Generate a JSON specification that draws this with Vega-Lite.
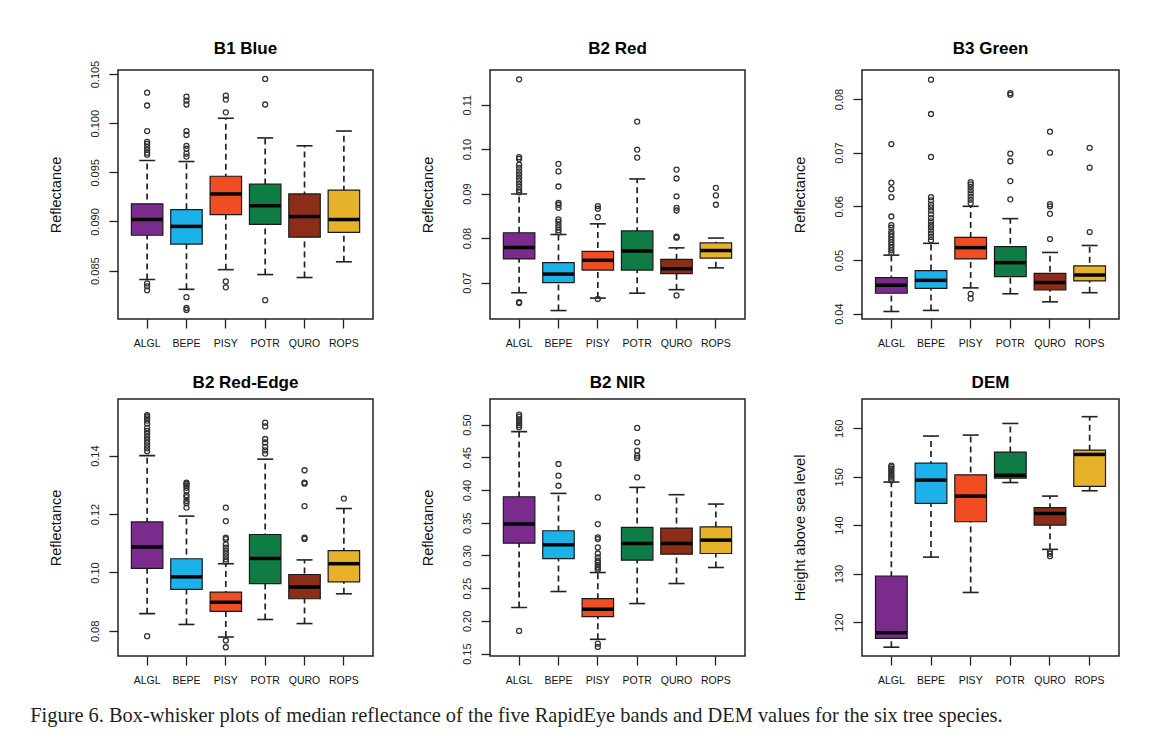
{
"$schema": "https://vega.github.io/schema/vega-lite/v6.json",
"background": "white",
"padding": {"left": 30, "top": 39, "right": 10, "bottom": 10},
"bounds": "flush",
"title": {"text": "Figure 6. Box-whisker plots of median reflectance of the five RapidEye bands and DEM values for the six tree species.", "orient": "bottom", "anchor": "start", "frame": "bounds", "font": "Liberation Serif", "fontSize": 20.4, "fontWeight": "normal", "color": "#231f20", "offset": 20, "dx": -17},
"datasets": {
"stats": [
{"band":"B1","sp":"ALGL","lo":0.0841,"q1":0.0886,"med":0.0902,"q3":0.0918,"hi":0.0962},
{"band":"B1","sp":"BEPE","lo":0.0831,"q1":0.0877,"med":0.0895,"q3":0.0912,"hi":0.0961},
{"band":"B1","sp":"PISY","lo":0.0851,"q1":0.0907,"med":0.0928,"q3":0.0946,"hi":0.1005},
{"band":"B1","sp":"POTR","lo":0.0846,"q1":0.0897,"med":0.0916,"q3":0.0938,"hi":0.0985},
{"band":"B1","sp":"QURO","lo":0.0843,"q1":0.0884,"med":0.0905,"q3":0.0928,"hi":0.0977},
{"band":"B1","sp":"ROPS","lo":0.0859,"q1":0.0889,"med":0.0902,"q3":0.0932,"hi":0.0992},
{"band":"B2R","sp":"ALGL","lo":0.0677,"q1":0.0753,"med":0.0779,"q3":0.0812,"hi":0.0899},
{"band":"B2R","sp":"BEPE","lo":0.0637,"q1":0.0700,"med":0.0719,"q3":0.0745,"hi":0.0808},
{"band":"B2R","sp":"PISY","lo":0.0665,"q1":0.0728,"med":0.0750,"q3":0.0770,"hi":0.0832},
{"band":"B2R","sp":"POTR","lo":0.0676,"q1":0.0728,"med":0.0771,"q3":0.0816,"hi":0.0933},
{"band":"B2R","sp":"QURO","lo":0.0684,"q1":0.0720,"med":0.0731,"q3":0.0752,"hi":0.0778},
{"band":"B2R","sp":"ROPS","lo":0.0733,"q1":0.0755,"med":0.0772,"q3":0.0789,"hi":0.0800},
{"band":"B3","sp":"ALGL","lo":0.0404,"q1":0.0438,"med":0.0453,"q3":0.0467,"hi":0.0509},
{"band":"B3","sp":"BEPE","lo":0.0406,"q1":0.0447,"med":0.0462,"q3":0.0480,"hi":0.0531},
{"band":"B3","sp":"PISY","lo":0.0448,"q1":0.0502,"med":0.0523,"q3":0.0542,"hi":0.0600},
{"band":"B3","sp":"POTR","lo":0.0437,"q1":0.0469,"med":0.0495,"q3":0.0525,"hi":0.0577},
{"band":"B3","sp":"QURO","lo":0.0422,"q1":0.0444,"med":0.0458,"q3":0.0475,"hi":0.0514},
{"band":"B3","sp":"ROPS","lo":0.0439,"q1":0.0461,"med":0.0472,"q3":0.0489,"hi":0.0527},
{"band":"RE","sp":"ALGL","lo":0.0859,"q1":0.1014,"med":0.1087,"q3":0.1173,"hi":0.1400},
{"band":"RE","sp":"BEPE","lo":0.0822,"q1":0.0942,"med":0.0985,"q3":0.1047,"hi":0.1193},
{"band":"RE","sp":"PISY","lo":0.0779,"q1":0.0867,"med":0.0898,"q3":0.0933,"hi":0.1030},
{"band":"RE","sp":"POTR","lo":0.0839,"q1":0.0962,"med":0.1048,"q3":0.1130,"hi":0.1388},
{"band":"RE","sp":"QURO","lo":0.0825,"q1":0.0910,"med":0.0950,"q3":0.0993,"hi":0.1043},
{"band":"RE","sp":"ROPS","lo":0.0927,"q1":0.0968,"med":0.1030,"q3":0.1075,"hi":0.1219},
{"band":"NIR","sp":"ALGL","lo":0.2204,"q1":0.3188,"med":0.3479,"q3":0.3897,"hi":0.4892},
{"band":"NIR","sp":"BEPE","lo":0.2449,"q1":0.2953,"med":0.3163,"q3":0.3377,"hi":0.3948},
{"band":"NIR","sp":"PISY","lo":0.1719,"q1":0.2066,"med":0.2178,"q3":0.2342,"hi":0.2739},
{"band":"NIR","sp":"POTR","lo":0.2265,"q1":0.2928,"med":0.3183,"q3":0.3428,"hi":0.4040},
{"band":"NIR","sp":"QURO","lo":0.2571,"q1":0.3020,"med":0.3183,"q3":0.3418,"hi":0.3928},
{"band":"NIR","sp":"ROPS","lo":0.2816,"q1":0.3030,"med":0.3234,"q3":0.3438,"hi":0.3785},
{"band":"DEM","sp":"ALGL","lo":114.8,"q1":116.6,"med":117.8,"q3":129.5,"hi":148.9},
{"band":"DEM","sp":"BEPE","lo":133.4,"q1":144.5,"med":149.3,"q3":152.8,"hi":158.4},
{"band":"DEM","sp":"PISY","lo":126.1,"q1":140.7,"med":146.0,"q3":150.4,"hi":158.6},
{"band":"DEM","sp":"POTR","lo":148.8,"q1":149.7,"med":150.3,"q3":155.1,"hi":161.0},
{"band":"DEM","sp":"QURO","lo":135.0,"q1":140.0,"med":142.4,"q3":143.6,"hi":146.0},
{"band":"DEM","sp":"ROPS","lo":147.1,"q1":148.0,"med":154.6,"q3":155.5,"hi":162.4}
],
"out": [
{"band":"B1","sp":"ALGL","v":0.1031},{"band":"B1","sp":"ALGL","v":0.1018},{"band":"B1","sp":"ALGL","v":0.0992},{"band":"B1","sp":"ALGL","v":0.0981},{"band":"B1","sp":"ALGL","v":0.0979},{"band":"B1","sp":"ALGL","v":0.0976},{"band":"B1","sp":"ALGL","v":0.0973},{"band":"B1","sp":"ALGL","v":0.0970},{"band":"B1","sp":"ALGL","v":0.0968},{"band":"B1","sp":"ALGL","v":0.0837},{"band":"B1","sp":"ALGL","v":0.0834},{"band":"B1","sp":"ALGL","v":0.0830},
{"band":"B1","sp":"BEPE","v":0.1027},{"band":"B1","sp":"BEPE","v":0.1023},{"band":"B1","sp":"BEPE","v":0.1019},{"band":"B1","sp":"BEPE","v":0.0992},{"band":"B1","sp":"BEPE","v":0.0988},{"band":"B1","sp":"BEPE","v":0.0977},{"band":"B1","sp":"BEPE","v":0.0974},{"band":"B1","sp":"BEPE","v":0.0969},{"band":"B1","sp":"BEPE","v":0.0966},{"band":"B1","sp":"BEPE","v":0.0823},{"band":"B1","sp":"BEPE","v":0.0812},{"band":"B1","sp":"BEPE","v":0.0810},
{"band":"B1","sp":"PISY","v":0.1028},{"band":"B1","sp":"PISY","v":0.1024},{"band":"B1","sp":"PISY","v":0.1011},{"band":"B1","sp":"PISY","v":0.0839},{"band":"B1","sp":"PISY","v":0.0833},
{"band":"B1","sp":"POTR","v":0.1045},{"band":"B1","sp":"POTR","v":0.1019},{"band":"B1","sp":"POTR","v":0.0820},
{"band":"B2R","sp":"ALGL","v":0.1157},{"band":"B2R","sp":"ALGL","v":0.0982},{"band":"B2R","sp":"ALGL","v":0.0978},{"band":"B2R","sp":"ALGL","v":0.0965},{"band":"B2R","sp":"ALGL","v":0.0958},{"band":"B2R","sp":"ALGL","v":0.0950},{"band":"B2R","sp":"ALGL","v":0.0943},{"band":"B2R","sp":"ALGL","v":0.0936},{"band":"B2R","sp":"ALGL","v":0.0929},{"band":"B2R","sp":"ALGL","v":0.0922},{"band":"B2R","sp":"ALGL","v":0.0915},{"band":"B2R","sp":"ALGL","v":0.0908},{"band":"B2R","sp":"ALGL","v":0.0903},{"band":"B2R","sp":"ALGL","v":0.0656},{"band":"B2R","sp":"ALGL","v":0.0654},
{"band":"B2R","sp":"BEPE","v":0.0967},{"band":"B2R","sp":"BEPE","v":0.0950},{"band":"B2R","sp":"BEPE","v":0.0916},{"band":"B2R","sp":"BEPE","v":0.0879},{"band":"B2R","sp":"BEPE","v":0.0875},{"band":"B2R","sp":"BEPE","v":0.0868},{"band":"B2R","sp":"BEPE","v":0.0842},{"band":"B2R","sp":"BEPE","v":0.0837},{"band":"B2R","sp":"BEPE","v":0.0830},{"band":"B2R","sp":"BEPE","v":0.0824},{"band":"B2R","sp":"BEPE","v":0.0818},{"band":"B2R","sp":"BEPE","v":0.0813},
{"band":"B2R","sp":"PISY","v":0.0872},{"band":"B2R","sp":"PISY","v":0.0866},{"band":"B2R","sp":"PISY","v":0.0847},{"band":"B2R","sp":"PISY","v":0.0663},
{"band":"B2R","sp":"POTR","v":0.1062},{"band":"B2R","sp":"POTR","v":0.0999},{"band":"B2R","sp":"POTR","v":0.0981},
{"band":"B2R","sp":"QURO","v":0.0954},{"band":"B2R","sp":"QURO","v":0.0934},{"band":"B2R","sp":"QURO","v":0.0894},{"band":"B2R","sp":"QURO","v":0.0868},{"band":"B2R","sp":"QURO","v":0.0862},{"band":"B2R","sp":"QURO","v":0.0803},{"band":"B2R","sp":"QURO","v":0.0801},{"band":"B2R","sp":"QURO","v":0.0671},
{"band":"B2R","sp":"ROPS","v":0.0913},{"band":"B2R","sp":"ROPS","v":0.0896},{"band":"B2R","sp":"ROPS","v":0.0875},
{"band":"B3","sp":"ALGL","v":0.0716},{"band":"B3","sp":"ALGL","v":0.0644},{"band":"B3","sp":"ALGL","v":0.0632},{"band":"B3","sp":"ALGL","v":0.0617},{"band":"B3","sp":"ALGL","v":0.0581},{"band":"B3","sp":"ALGL","v":0.0565},{"band":"B3","sp":"ALGL","v":0.0560},{"band":"B3","sp":"ALGL","v":0.0553},{"band":"B3","sp":"ALGL","v":0.0548},{"band":"B3","sp":"ALGL","v":0.0543},{"band":"B3","sp":"ALGL","v":0.0538},{"band":"B3","sp":"ALGL","v":0.0533},{"band":"B3","sp":"ALGL","v":0.0528},{"band":"B3","sp":"ALGL","v":0.0523},{"band":"B3","sp":"ALGL","v":0.0518},{"band":"B3","sp":"ALGL","v":0.0513},
{"band":"B3","sp":"BEPE","v":0.0836},{"band":"B3","sp":"BEPE","v":0.0772},{"band":"B3","sp":"BEPE","v":0.0692},{"band":"B3","sp":"BEPE","v":0.0617},{"band":"B3","sp":"BEPE","v":0.0611},{"band":"B3","sp":"BEPE","v":0.0603},{"band":"B3","sp":"BEPE","v":0.0598},{"band":"B3","sp":"BEPE","v":0.0592},{"band":"B3","sp":"BEPE","v":0.0585},{"band":"B3","sp":"BEPE","v":0.0578},{"band":"B3","sp":"BEPE","v":0.0572},{"band":"B3","sp":"BEPE","v":0.0566},{"band":"B3","sp":"BEPE","v":0.0561},{"band":"B3","sp":"BEPE","v":0.0555},{"band":"B3","sp":"BEPE","v":0.0549},{"band":"B3","sp":"BEPE","v":0.0543},{"band":"B3","sp":"BEPE","v":0.0537},
{"band":"B3","sp":"PISY","v":0.0645},{"band":"B3","sp":"PISY","v":0.0641},{"band":"B3","sp":"PISY","v":0.0636},{"band":"B3","sp":"PISY","v":0.0630},{"band":"B3","sp":"PISY","v":0.0624},{"band":"B3","sp":"PISY","v":0.0618},{"band":"B3","sp":"PISY","v":0.0612},{"band":"B3","sp":"PISY","v":0.0606},{"band":"B3","sp":"PISY","v":0.0437},{"band":"B3","sp":"PISY","v":0.0428},
{"band":"B3","sp":"POTR","v":0.0811},{"band":"B3","sp":"POTR","v":0.0808},{"band":"B3","sp":"POTR","v":0.0698},{"band":"B3","sp":"POTR","v":0.0684},{"band":"B3","sp":"POTR","v":0.0647},{"band":"B3","sp":"POTR","v":0.0613},
{"band":"B3","sp":"QURO","v":0.0739},{"band":"B3","sp":"QURO","v":0.0700},{"band":"B3","sp":"QURO","v":0.0604},{"band":"B3","sp":"QURO","v":0.0600},{"band":"B3","sp":"QURO","v":0.0586},{"band":"B3","sp":"QURO","v":0.0539},
{"band":"B3","sp":"ROPS","v":0.0709},{"band":"B3","sp":"ROPS","v":0.0672},{"band":"B3","sp":"ROPS","v":0.0552},
{"band":"RE","sp":"ALGL","v":0.1539},{"band":"RE","sp":"ALGL","v":0.1534},{"band":"RE","sp":"ALGL","v":0.1528},{"band":"RE","sp":"ALGL","v":0.1520},{"band":"RE","sp":"ALGL","v":0.1510},{"band":"RE","sp":"ALGL","v":0.1495},{"band":"RE","sp":"ALGL","v":0.1485},{"band":"RE","sp":"ALGL","v":0.1475},{"band":"RE","sp":"ALGL","v":0.1465},{"band":"RE","sp":"ALGL","v":0.1455},{"band":"RE","sp":"ALGL","v":0.1445},{"band":"RE","sp":"ALGL","v":0.1435},{"band":"RE","sp":"ALGL","v":0.1425},{"band":"RE","sp":"ALGL","v":0.1415},{"band":"RE","sp":"ALGL","v":0.0782},
{"band":"RE","sp":"BEPE","v":0.1308},{"band":"RE","sp":"BEPE","v":0.1303},{"band":"RE","sp":"BEPE","v":0.1297},{"band":"RE","sp":"BEPE","v":0.1290},{"band":"RE","sp":"BEPE","v":0.1280},{"band":"RE","sp":"BEPE","v":0.1265},{"band":"RE","sp":"BEPE","v":0.1258},{"band":"RE","sp":"BEPE","v":0.1245},{"band":"RE","sp":"BEPE","v":0.1237},{"band":"RE","sp":"BEPE","v":0.1222},
{"band":"RE","sp":"PISY","v":0.1222},{"band":"RE","sp":"PISY","v":0.1176},{"band":"RE","sp":"PISY","v":0.1119},{"band":"RE","sp":"PISY","v":0.1114},{"band":"RE","sp":"PISY","v":0.1096},{"band":"RE","sp":"PISY","v":0.1085},{"band":"RE","sp":"PISY","v":0.1075},{"band":"RE","sp":"PISY","v":0.1065},{"band":"RE","sp":"PISY","v":0.1055},{"band":"RE","sp":"PISY","v":0.1045},{"band":"RE","sp":"PISY","v":0.1037},{"band":"RE","sp":"PISY","v":0.0767},{"band":"RE","sp":"PISY","v":0.0744},
{"band":"RE","sp":"POTR","v":0.1513},{"band":"RE","sp":"POTR","v":0.1500},{"band":"RE","sp":"POTR","v":0.1457},{"band":"RE","sp":"POTR","v":0.1445},{"band":"RE","sp":"POTR","v":0.1430},{"band":"RE","sp":"POTR","v":0.1418},{"band":"RE","sp":"POTR","v":0.1407},
{"band":"RE","sp":"QURO","v":0.1350},{"band":"RE","sp":"QURO","v":0.1308},{"band":"RE","sp":"QURO","v":0.1304},{"band":"RE","sp":"QURO","v":0.1227},{"band":"RE","sp":"QURO","v":0.1119},{"band":"RE","sp":"QURO","v":0.1115},
{"band":"RE","sp":"ROPS","v":0.1253},
{"band":"NIR","sp":"ALGL","v":0.5152},{"band":"NIR","sp":"ALGL","v":0.5120},{"band":"NIR","sp":"ALGL","v":0.5080},{"band":"NIR","sp":"ALGL","v":0.5050},{"band":"NIR","sp":"ALGL","v":0.5020},{"band":"NIR","sp":"ALGL","v":0.4990},{"band":"NIR","sp":"ALGL","v":0.4960},{"band":"NIR","sp":"ALGL","v":0.1847},
{"band":"NIR","sp":"BEPE","v":0.4397},{"band":"NIR","sp":"BEPE","v":0.4218},{"band":"NIR","sp":"BEPE","v":0.4065},
{"band":"NIR","sp":"PISY","v":0.3887},{"band":"NIR","sp":"PISY","v":0.3479},{"band":"NIR","sp":"PISY","v":0.3275},{"band":"NIR","sp":"PISY","v":0.3250},{"band":"NIR","sp":"PISY","v":0.3122},{"band":"NIR","sp":"PISY","v":0.3030},{"band":"NIR","sp":"PISY","v":0.2969},{"band":"NIR","sp":"PISY","v":0.2920},{"band":"NIR","sp":"PISY","v":0.2890},{"band":"NIR","sp":"PISY","v":0.2857},{"band":"NIR","sp":"PISY","v":0.2826},{"band":"NIR","sp":"PISY","v":0.2800},{"band":"NIR","sp":"PISY","v":0.2780},{"band":"NIR","sp":"PISY","v":0.1653},{"band":"NIR","sp":"PISY","v":0.1602},
{"band":"NIR","sp":"POTR","v":0.4948},{"band":"NIR","sp":"POTR","v":0.4728},{"band":"NIR","sp":"POTR","v":0.4601},{"band":"NIR","sp":"POTR","v":0.4524},{"band":"NIR","sp":"POTR","v":0.4489},{"band":"NIR","sp":"POTR","v":0.4193},
{"band":"DEM","sp":"ALGL","v":152.3},{"band":"DEM","sp":"ALGL","v":152.0},{"band":"DEM","sp":"ALGL","v":151.6},{"band":"DEM","sp":"ALGL","v":151.2},{"band":"DEM","sp":"ALGL","v":150.8},{"band":"DEM","sp":"ALGL","v":150.4},{"band":"DEM","sp":"ALGL","v":150.0},{"band":"DEM","sp":"ALGL","v":149.6},{"band":"DEM","sp":"ALGL","v":149.2},
{"band":"DEM","sp":"QURO","v":134.5},{"band":"DEM","sp":"QURO","v":134.1},{"band":"DEM","sp":"QURO","v":133.6}
]
},
"columns": 3,
"spacing": {"row": 80, "column": 117},
"concat": [
{"title": {"text": "B1 Blue", "offset": 2}, "width": 255, "height": 249,
 "encoding": {"x": {"field": "sp", "type": "nominal", "title": null, "scale": {"domain": ["ALGL","BEPE","PISY","POTR","QURO","ROPS"], "paddingInner": 0.2, "paddingOuter": 0.34}}},
 "layer": [
  {"data": {"name": "stats"}, "transform": [{"filter": "datum.band === 'B1'"}], "mark": {"type": "rule", "strokeDash": [6, 4], "strokeWidth": 1.7, "color": "#222"}, "encoding": {"y": {"field": "lo", "type": "quantitative", "title": "Reflectance", "scale": {"domain": [0.08008, 0.10541], "zero": false, "nice": false}}, "y2": {"field": "hi"}}},
  {"data": {"name": "stats"}, "transform": [{"filter": "datum.band === 'B1'"}, {"fold": ["lo", "hi"], "as": ["k", "val"]}], "mark": {"type": "tick", "size": 16, "thickness": 1.6, "color": "#222", "opacity": 1}, "encoding": {"y": {"field": "val", "type": "quantitative", "title": "Reflectance", "scale": {"domain": [0.08008, 0.10541], "zero": false, "nice": false}}}},
  {"data": {"name": "stats"}, "transform": [{"filter": "datum.band === 'B1'"}], "mark": {"type": "bar", "stroke": "#1a1a1a", "strokeWidth": 1.2}, "encoding": {"y": {"field": "q1", "type": "quantitative", "title": "Reflectance", "scale": {"domain": [0.08008, 0.10541], "zero": false, "nice": false}}, "y2": {"field": "q3"}, "color": {"field": "sp", "type": "nominal", "legend": null, "scale": {"domain": ["ALGL","BEPE","PISY","POTR","QURO","ROPS"], "range": ["#7a2b8c","#1ab2e8","#f04d22","#0f7b45","#8b2d17","#e5b229"]}}}},
  {"data": {"name": "stats"}, "transform": [{"filter": "datum.band === 'B1'"}], "mark": {"type": "tick", "size": 31, "thickness": 3.5, "color": "#000", "opacity": 1}, "encoding": {"y": {"field": "med", "type": "quantitative", "title": "Reflectance", "scale": {"domain": [0.08008, 0.10541], "zero": false, "nice": false}}}},
  {"data": {"name": "out"}, "transform": [{"filter": "datum.band === 'B1'"}], "mark": {"type": "point", "shape": "circle", "filled": false, "size": 25, "strokeWidth": 1.3, "color": "#333", "opacity": 1}, "encoding": {"y": {"field": "v", "type": "quantitative", "title": "Reflectance", "scale": {"domain": [0.08008, 0.10541], "zero": false, "nice": false}}}}
 ]},
{"title": {"text": "B2 Red", "offset": 12}, "width": 255, "height": 249,
 "encoding": {"x": {"field": "sp", "type": "nominal", "title": null, "scale": {"domain": ["ALGL","BEPE","PISY","POTR","QURO","ROPS"], "paddingInner": 0.2, "paddingOuter": 0.34}}},
 "layer": [
  {"data": {"name": "stats"}, "transform": [{"filter": "datum.band === 'B2R'"}], "mark": {"type": "rule", "strokeDash": [6, 4], "strokeWidth": 1.7, "color": "#222"}, "encoding": {"y": {"field": "lo", "type": "quantitative", "title": "Reflectance", "scale": {"domain": [0.0618, 0.1178], "zero": false, "nice": false}}, "y2": {"field": "hi"}}},
  {"data": {"name": "stats"}, "transform": [{"filter": "datum.band === 'B2R'"}, {"fold": ["lo", "hi"], "as": ["k", "val"]}], "mark": {"type": "tick", "size": 16, "thickness": 1.6, "color": "#222", "opacity": 1}, "encoding": {"y": {"field": "val", "type": "quantitative", "title": "Reflectance", "scale": {"domain": [0.0618, 0.1178], "zero": false, "nice": false}}}},
  {"data": {"name": "stats"}, "transform": [{"filter": "datum.band === 'B2R'"}], "mark": {"type": "bar", "stroke": "#1a1a1a", "strokeWidth": 1.2}, "encoding": {"y": {"field": "q1", "type": "quantitative", "title": "Reflectance", "scale": {"domain": [0.0618, 0.1178], "zero": false, "nice": false}}, "y2": {"field": "q3"}, "color": {"field": "sp", "type": "nominal", "legend": null, "scale": {"domain": ["ALGL","BEPE","PISY","POTR","QURO","ROPS"], "range": ["#7a2b8c","#1ab2e8","#f04d22","#0f7b45","#8b2d17","#e5b229"]}}}},
  {"data": {"name": "stats"}, "transform": [{"filter": "datum.band === 'B2R'"}], "mark": {"type": "tick", "size": 31, "thickness": 3.5, "color": "#000", "opacity": 1}, "encoding": {"y": {"field": "med", "type": "quantitative", "title": "Reflectance", "scale": {"domain": [0.0618, 0.1178], "zero": false, "nice": false}}}},
  {"data": {"name": "out"}, "transform": [{"filter": "datum.band === 'B2R'"}], "mark": {"type": "point", "shape": "circle", "filled": false, "size": 25, "strokeWidth": 1.3, "color": "#333", "opacity": 1}, "encoding": {"y": {"field": "v", "type": "quantitative", "title": "Reflectance", "scale": {"domain": [0.0618, 0.1178], "zero": false, "nice": false}}}}
 ]},
{"title": {"text": "B3 Green", "offset": 12}, "width": 257, "height": 249,
 "encoding": {"x": {"field": "sp", "type": "nominal", "title": null, "scale": {"domain": ["ALGL","BEPE","PISY","POTR","QURO","ROPS"], "paddingInner": 0.2, "paddingOuter": 0.34}}},
 "layer": [
  {"data": {"name": "stats"}, "transform": [{"filter": "datum.band === 'B3'"}], "mark": {"type": "rule", "strokeDash": [6, 4], "strokeWidth": 1.7, "color": "#222"}, "encoding": {"y": {"field": "lo", "type": "quantitative", "title": "Reflectance", "scale": {"domain": [0.0390, 0.0854], "zero": false, "nice": false}}, "y2": {"field": "hi"}}},
  {"data": {"name": "stats"}, "transform": [{"filter": "datum.band === 'B3'"}, {"fold": ["lo", "hi"], "as": ["k", "val"]}], "mark": {"type": "tick", "size": 16, "thickness": 1.6, "color": "#222", "opacity": 1}, "encoding": {"y": {"field": "val", "type": "quantitative", "title": "Reflectance", "scale": {"domain": [0.0390, 0.0854], "zero": false, "nice": false}}}},
  {"data": {"name": "stats"}, "transform": [{"filter": "datum.band === 'B3'"}], "mark": {"type": "bar", "stroke": "#1a1a1a", "strokeWidth": 1.2}, "encoding": {"y": {"field": "q1", "type": "quantitative", "title": "Reflectance", "scale": {"domain": [0.0390, 0.0854], "zero": false, "nice": false}}, "y2": {"field": "q3"}, "color": {"field": "sp", "type": "nominal", "legend": null, "scale": {"domain": ["ALGL","BEPE","PISY","POTR","QURO","ROPS"], "range": ["#7a2b8c","#1ab2e8","#f04d22","#0f7b45","#8b2d17","#e5b229"]}}}},
  {"data": {"name": "stats"}, "transform": [{"filter": "datum.band === 'B3'"}], "mark": {"type": "tick", "size": 31, "thickness": 3.5, "color": "#000", "opacity": 1}, "encoding": {"y": {"field": "med", "type": "quantitative", "title": "Reflectance", "scale": {"domain": [0.0390, 0.0854], "zero": false, "nice": false}}}},
  {"data": {"name": "out"}, "transform": [{"filter": "datum.band === 'B3'"}], "mark": {"type": "point", "shape": "circle", "filled": false, "size": 25, "strokeWidth": 1.3, "color": "#333", "opacity": 1}, "encoding": {"y": {"field": "v", "type": "quantitative", "title": "Reflectance", "scale": {"domain": [0.0390, 0.0854], "zero": false, "nice": false}}}}
 ]},
{"title": {"text": "B2 Red-Edge", "offset": 7}, "width": 255, "height": 257,
 "encoding": {"x": {"field": "sp", "type": "nominal", "title": null, "scale": {"domain": ["ALGL","BEPE","PISY","POTR","QURO","ROPS"], "paddingInner": 0.2, "paddingOuter": 0.34}}},
 "layer": [
  {"data": {"name": "stats"}, "transform": [{"filter": "datum.band === 'RE'"}], "mark": {"type": "rule", "strokeDash": [6, 4], "strokeWidth": 1.7, "color": "#222"}, "encoding": {"y": {"field": "lo", "type": "quantitative", "title": "Reflectance", "scale": {"domain": [0.0714, 0.1594], "zero": false, "nice": false}}, "y2": {"field": "hi"}}},
  {"data": {"name": "stats"}, "transform": [{"filter": "datum.band === 'RE'"}, {"fold": ["lo", "hi"], "as": ["k", "val"]}], "mark": {"type": "tick", "size": 16, "thickness": 1.6, "color": "#222", "opacity": 1}, "encoding": {"y": {"field": "val", "type": "quantitative", "title": "Reflectance", "scale": {"domain": [0.0714, 0.1594], "zero": false, "nice": false}}}},
  {"data": {"name": "stats"}, "transform": [{"filter": "datum.band === 'RE'"}], "mark": {"type": "bar", "stroke": "#1a1a1a", "strokeWidth": 1.2}, "encoding": {"y": {"field": "q1", "type": "quantitative", "title": "Reflectance", "scale": {"domain": [0.0714, 0.1594], "zero": false, "nice": false}}, "y2": {"field": "q3"}, "color": {"field": "sp", "type": "nominal", "legend": null, "scale": {"domain": ["ALGL","BEPE","PISY","POTR","QURO","ROPS"], "range": ["#7a2b8c","#1ab2e8","#f04d22","#0f7b45","#8b2d17","#e5b229"]}}}},
  {"data": {"name": "stats"}, "transform": [{"filter": "datum.band === 'RE'"}], "mark": {"type": "tick", "size": 31, "thickness": 3.5, "color": "#000", "opacity": 1}, "encoding": {"y": {"field": "med", "type": "quantitative", "title": "Reflectance", "scale": {"domain": [0.0714, 0.1594], "zero": false, "nice": false}}}},
  {"data": {"name": "out"}, "transform": [{"filter": "datum.band === 'RE'"}], "mark": {"type": "point", "shape": "circle", "filled": false, "size": 25, "strokeWidth": 1.3, "color": "#333", "opacity": 1}, "encoding": {"y": {"field": "v", "type": "quantitative", "title": "Reflectance", "scale": {"domain": [0.0714, 0.1594], "zero": false, "nice": false}}}}
 ]},
{"title": {"text": "B2 NIR", "offset": 7}, "width": 255, "height": 257,
 "encoding": {"x": {"field": "sp", "type": "nominal", "title": null, "scale": {"domain": ["ALGL","BEPE","PISY","POTR","QURO","ROPS"], "paddingInner": 0.2, "paddingOuter": 0.34}}},
 "layer": [
  {"data": {"name": "stats"}, "transform": [{"filter": "datum.band === 'NIR'"}], "mark": {"type": "rule", "strokeDash": [6, 4], "strokeWidth": 1.7, "color": "#222"}, "encoding": {"y": {"field": "lo", "type": "quantitative", "title": "Reflectance", "scale": {"domain": [0.1464, 0.539], "zero": false, "nice": false}}, "y2": {"field": "hi"}}},
  {"data": {"name": "stats"}, "transform": [{"filter": "datum.band === 'NIR'"}, {"fold": ["lo", "hi"], "as": ["k", "val"]}], "mark": {"type": "tick", "size": 16, "thickness": 1.6, "color": "#222", "opacity": 1}, "encoding": {"y": {"field": "val", "type": "quantitative", "title": "Reflectance", "scale": {"domain": [0.1464, 0.539], "zero": false, "nice": false}}}},
  {"data": {"name": "stats"}, "transform": [{"filter": "datum.band === 'NIR'"}], "mark": {"type": "bar", "stroke": "#1a1a1a", "strokeWidth": 1.2}, "encoding": {"y": {"field": "q1", "type": "quantitative", "title": "Reflectance", "scale": {"domain": [0.1464, 0.539], "zero": false, "nice": false}}, "y2": {"field": "q3"}, "color": {"field": "sp", "type": "nominal", "legend": null, "scale": {"domain": ["ALGL","BEPE","PISY","POTR","QURO","ROPS"], "range": ["#7a2b8c","#1ab2e8","#f04d22","#0f7b45","#8b2d17","#e5b229"]}}}},
  {"data": {"name": "stats"}, "transform": [{"filter": "datum.band === 'NIR'"}], "mark": {"type": "tick", "size": 31, "thickness": 3.5, "color": "#000", "opacity": 1}, "encoding": {"y": {"field": "med", "type": "quantitative", "title": "Reflectance", "scale": {"domain": [0.1464, 0.539], "zero": false, "nice": false}}}},
  {"data": {"name": "out"}, "transform": [{"filter": "datum.band === 'NIR'"}], "mark": {"type": "point", "shape": "circle", "filled": false, "size": 25, "strokeWidth": 1.3, "color": "#333", "opacity": 1}, "encoding": {"y": {"field": "v", "type": "quantitative", "title": "Reflectance", "scale": {"domain": [0.1464, 0.539], "zero": false, "nice": false}}}}
 ]},
{"title": {"text": "DEM", "offset": 7}, "width": 257, "height": 257,
 "encoding": {"x": {"field": "sp", "type": "nominal", "title": null, "scale": {"domain": ["ALGL","BEPE","PISY","POTR","QURO","ROPS"], "paddingInner": 0.2, "paddingOuter": 0.34}}},
 "layer": [
  {"data": {"name": "stats"}, "transform": [{"filter": "datum.band === 'DEM'"}], "mark": {"type": "rule", "strokeDash": [6, 4], "strokeWidth": 1.7, "color": "#222"}, "encoding": {"y": {"field": "lo", "type": "quantitative", "title": "Height above sea level", "scale": {"domain": [112.98, 166.05], "zero": false, "nice": false}}, "y2": {"field": "hi"}}},
  {"data": {"name": "stats"}, "transform": [{"filter": "datum.band === 'DEM'"}, {"fold": ["lo", "hi"], "as": ["k", "val"]}], "mark": {"type": "tick", "size": 16, "thickness": 1.6, "color": "#222", "opacity": 1}, "encoding": {"y": {"field": "val", "type": "quantitative", "title": "Height above sea level", "scale": {"domain": [112.98, 166.05], "zero": false, "nice": false}}}},
  {"data": {"name": "stats"}, "transform": [{"filter": "datum.band === 'DEM'"}], "mark": {"type": "bar", "stroke": "#1a1a1a", "strokeWidth": 1.2}, "encoding": {"y": {"field": "q1", "type": "quantitative", "title": "Height above sea level", "scale": {"domain": [112.98, 166.05], "zero": false, "nice": false}}, "y2": {"field": "q3"}, "color": {"field": "sp", "type": "nominal", "legend": null, "scale": {"domain": ["ALGL","BEPE","PISY","POTR","QURO","ROPS"], "range": ["#7a2b8c","#1ab2e8","#f04d22","#0f7b45","#8b2d17","#e5b229"]}}}},
  {"data": {"name": "stats"}, "transform": [{"filter": "datum.band === 'DEM'"}], "mark": {"type": "tick", "size": 31, "thickness": 3.5, "color": "#000", "opacity": 1}, "encoding": {"y": {"field": "med", "type": "quantitative", "title": "Height above sea level", "scale": {"domain": [112.98, 166.05], "zero": false, "nice": false}}}},
  {"data": {"name": "out"}, "transform": [{"filter": "datum.band === 'DEM'"}], "mark": {"type": "point", "shape": "circle", "filled": false, "size": 25, "strokeWidth": 1.3, "color": "#333", "opacity": 1}, "encoding": {"y": {"field": "v", "type": "quantitative", "title": "Height above sea level", "scale": {"domain": [112.98, 166.05], "zero": false, "nice": false}}}}
 ]}
],
"config": {
 "font": "Liberation Sans",
 "view": {"stroke": "#222", "strokeWidth": 1.5},
 "title": {"font": "Liberation Sans", "fontSize": 17, "fontWeight": "bold", "color": "#000", "anchor": "middle", "frame": "group", "baseline": "alphabetic"},
 "axisX": {"domain": false, "grid": false, "tickSize": 9, "tickWidth": 1.3, "tickColor": "#222", "labelFont": "Liberation Sans", "labelFontSize": 10.5, "labelColor": "#111", "labelPadding": 10, "labelAngle": 0},
 "axisY": {"domain": false, "grid": false, "tickSize": 9, "tickWidth": 1.3, "tickColor": "#222", "tickCount": 6, "labelAngle": -90, "labelAlign": "center", "labelBaseline": "bottom", "labelFont": "Liberation Sans", "labelFontSize": 11, "labelColor": "#222", "labelPadding": 9, "titleFont": "Liberation Sans", "titleFontSize": 14.5, "titleFontWeight": "normal", "titleColor": "#111", "titlePadding": 26}
}
}
